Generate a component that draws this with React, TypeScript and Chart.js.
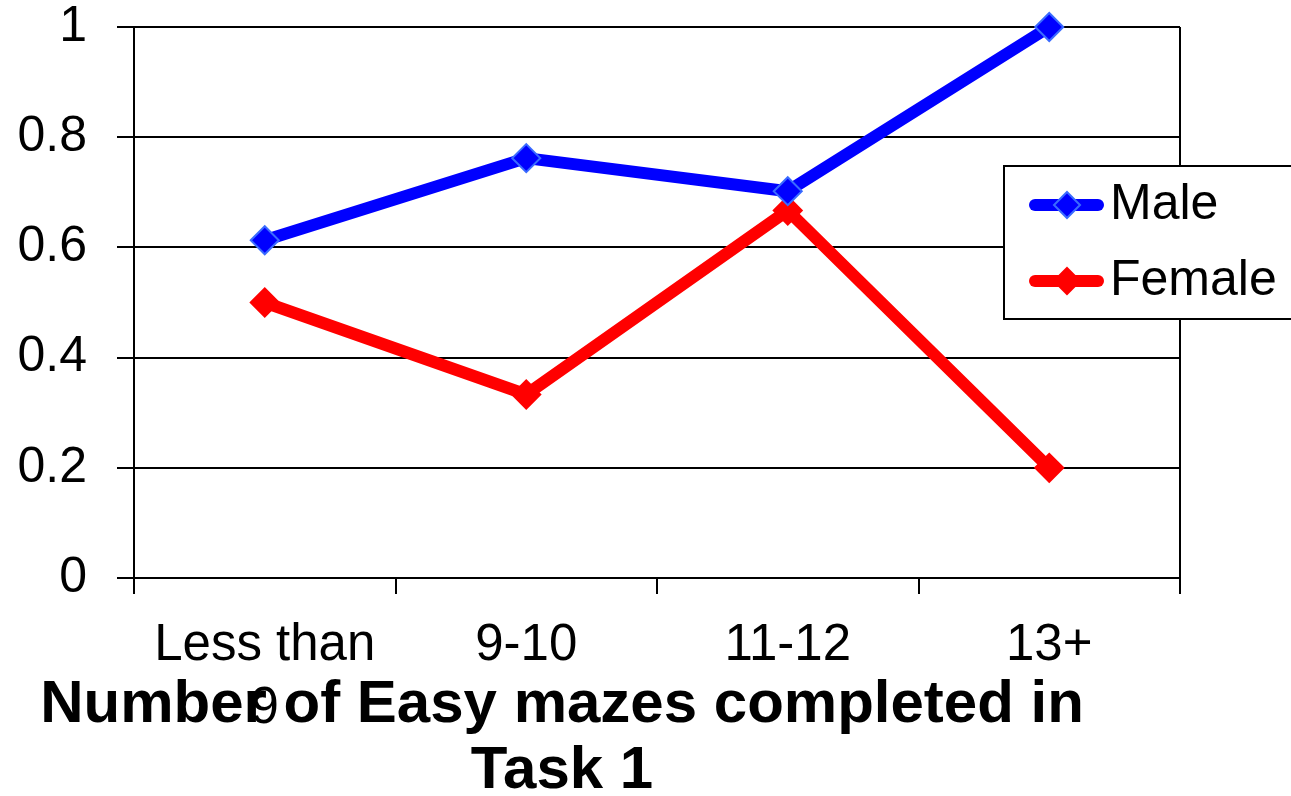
import React, { useEffect, useRef } from "react";
import { Chart, registerables } from "chart.js";

Chart.register(...registerables);

// Share of participants per group, by number of easy mazes completed
const categories: (string | string[])[] = [["Less than", "9"], "9-10", "11-12", "13+"];
const maleRates = [0.613, 0.762, 0.702, 1.0];
const femaleRates = [0.5, 0.333, 0.667, 0.2];
const seriesNames = ["Male", "Female"];
const yTickValues = [0, 0.2, 0.4, 0.6, 0.8, 1];
const titleLines = ["Number of Easy mazes completed in", "Task 1"];

const FONT = "'Liberation Sans', Arial, sans-serif";
const MALE_COLOR = "#0000FF";
const MALE_EDGE = "#3A6BFF";
const FEMALE_COLOR = "#FF0000";

function diamond(ctx: CanvasRenderingContext2D, x: number, y: number, r: number, fill: string, edge: string) {
  ctx.beginPath();
  ctx.moveTo(x, y - r);
  ctx.lineTo(x + r, y);
  ctx.lineTo(x, y + r);
  ctx.lineTo(x - r, y);
  ctx.closePath();
  ctx.fillStyle = fill;
  ctx.fill();
  ctx.lineWidth = 2;
  ctx.strokeStyle = edge;
  ctx.stroke();
}

// Frame on the right side of the plot, legend box and the axis caption
const decorPlugin = {
  id: "decor",
  beforeDatasetsDraw(chart: any) {
    const { ctx, chartArea } = chart;
    ctx.save();
    ctx.strokeStyle = "#000";
    ctx.lineWidth = 2;
    ctx.beginPath();
    ctx.moveTo(chartArea.right, chartArea.top);
    ctx.lineTo(chartArea.right, chartArea.bottom);
    ctx.stroke();
    ctx.restore();
  },
  afterDraw(chart: any) {
    const { ctx } = chart;
    ctx.save();
    // legend
    ctx.fillStyle = "#fff";
    ctx.fillRect(1004, 166, 300, 153);
    ctx.strokeStyle = "#000";
    ctx.lineWidth = 2;
    ctx.strokeRect(1004, 166, 300, 153);
    const entries = [
      { name: seriesNames[0], color: MALE_COLOR, edge: MALE_EDGE, y: 205 },
      { name: seriesNames[1], color: FEMALE_COLOR, edge: FEMALE_COLOR, y: 281 },
    ];
    entries.forEach((e) => {
      ctx.strokeStyle = e.color;
      ctx.lineWidth = 12;
      ctx.lineCap = "round";
      ctx.beginPath();
      ctx.moveTo(1035, e.y);
      ctx.lineTo(1098, e.y);
      ctx.stroke();
      diamond(ctx, 1067, e.y, 13, e.color, e.edge);
      ctx.fillStyle = "#000";
      ctx.font = `50px ${FONT}`;
      ctx.textAlign = "left";
      ctx.textBaseline = "middle";
      ctx.fillText(e.name, 1110, e.y);
    });
    // caption
    ctx.fillStyle = "#000";
    ctx.font = `bold 60px ${FONT}`;
    ctx.textAlign = "center";
    ctx.textBaseline = "alphabetic";
    ctx.fillText(titleLines[0], 562, 722);
    ctx.fillText(titleLines[1], 562, 788);
    ctx.restore();
  },
};

export default function App() {
  const canvasRef = useRef<HTMLCanvasElement | null>(null);

  useEffect(() => {
    if (!canvasRef.current) return;
    const chart = new Chart(canvasRef.current, {
      type: "line",
      data: {
        labels: categories as any,
        datasets: [
          {
            label: seriesNames[0],
            data: maleRates,
            borderColor: MALE_COLOR,
            backgroundColor: MALE_COLOR,
            borderWidth: 12,
            pointStyle: "rectRot",
            pointRadius: 14,
            pointBorderWidth: 2,
            pointBackgroundColor: MALE_COLOR,
            pointBorderColor: MALE_EDGE,
            tension: 0,
            clip: false as any,
            borderJoinStyle: "round",
          },
          {
            label: seriesNames[1],
            data: femaleRates,
            borderColor: FEMALE_COLOR,
            backgroundColor: FEMALE_COLOR,
            borderWidth: 12,
            pointStyle: "rectRot",
            pointRadius: 14,
            pointBorderWidth: 2,
            pointBackgroundColor: FEMALE_COLOR,
            pointBorderColor: FEMALE_COLOR,
            tension: 0,
            clip: false as any,
            borderJoinStyle: "round",
          },
        ],
      },
      options: {
        animation: false,
        responsive: true,
        maintainAspectRatio: false,
        layout: { padding: { top: 27, right: 111, left: 0, bottom: 0 } },
        plugins: {
          legend: { display: false },
          tooltip: { enabled: false },
          title: { display: false },
        },
        scales: {
          x: {
            type: "category",
            offset: true,
            grid: {
              offset: true,
              drawOnChartArea: false,
              drawTicks: true,
              tickLength: 16,
              color: "#000",
              lineWidth: 2,
            },
            border: { display: true, color: "#000", width: 2 },
            ticks: {
              color: "#000",
              font: { family: FONT, size: 51, lineHeight: 1.24 },
              padding: 20,
              maxRotation: 0,
              autoSkip: false,
            },
            afterFit: (scale: any) => {
              scale.height = 218;
              scale.paddingLeft = 0;
              scale.paddingRight = 0;
            },
          },
          y: {
            min: 0,
            max: 1,
            afterBuildTicks: (scale: any) => {
              scale.ticks = yTickValues.map((v) => ({ value: v }));
            },
            grid: {
              color: "#000",
              lineWidth: 2,
              drawTicks: true,
              tickLength: 17,
            },
            border: { display: true, color: "#000", width: 2 },
            ticks: {
              color: "#000",
              font: { family: FONT, size: 50 },
              padding: 30,
              callback: (v: any) => String(Math.round(Number(v) * 10) / 10),
            },
            afterFit: (scale: any) => {
              scale.width = 134;
              scale.paddingTop = 0;
              scale.paddingBottom = 0;
            },
          },
        },
      },
      plugins: [decorPlugin],
    });
    return () => chart.destroy();
  }, []);

  return (
    <div style={{ position: "fixed", left: 0, top: 0, width: 1291, height: 796, background: "#fff" }}>
      <canvas ref={canvasRef} />
    </div>
  );
}
